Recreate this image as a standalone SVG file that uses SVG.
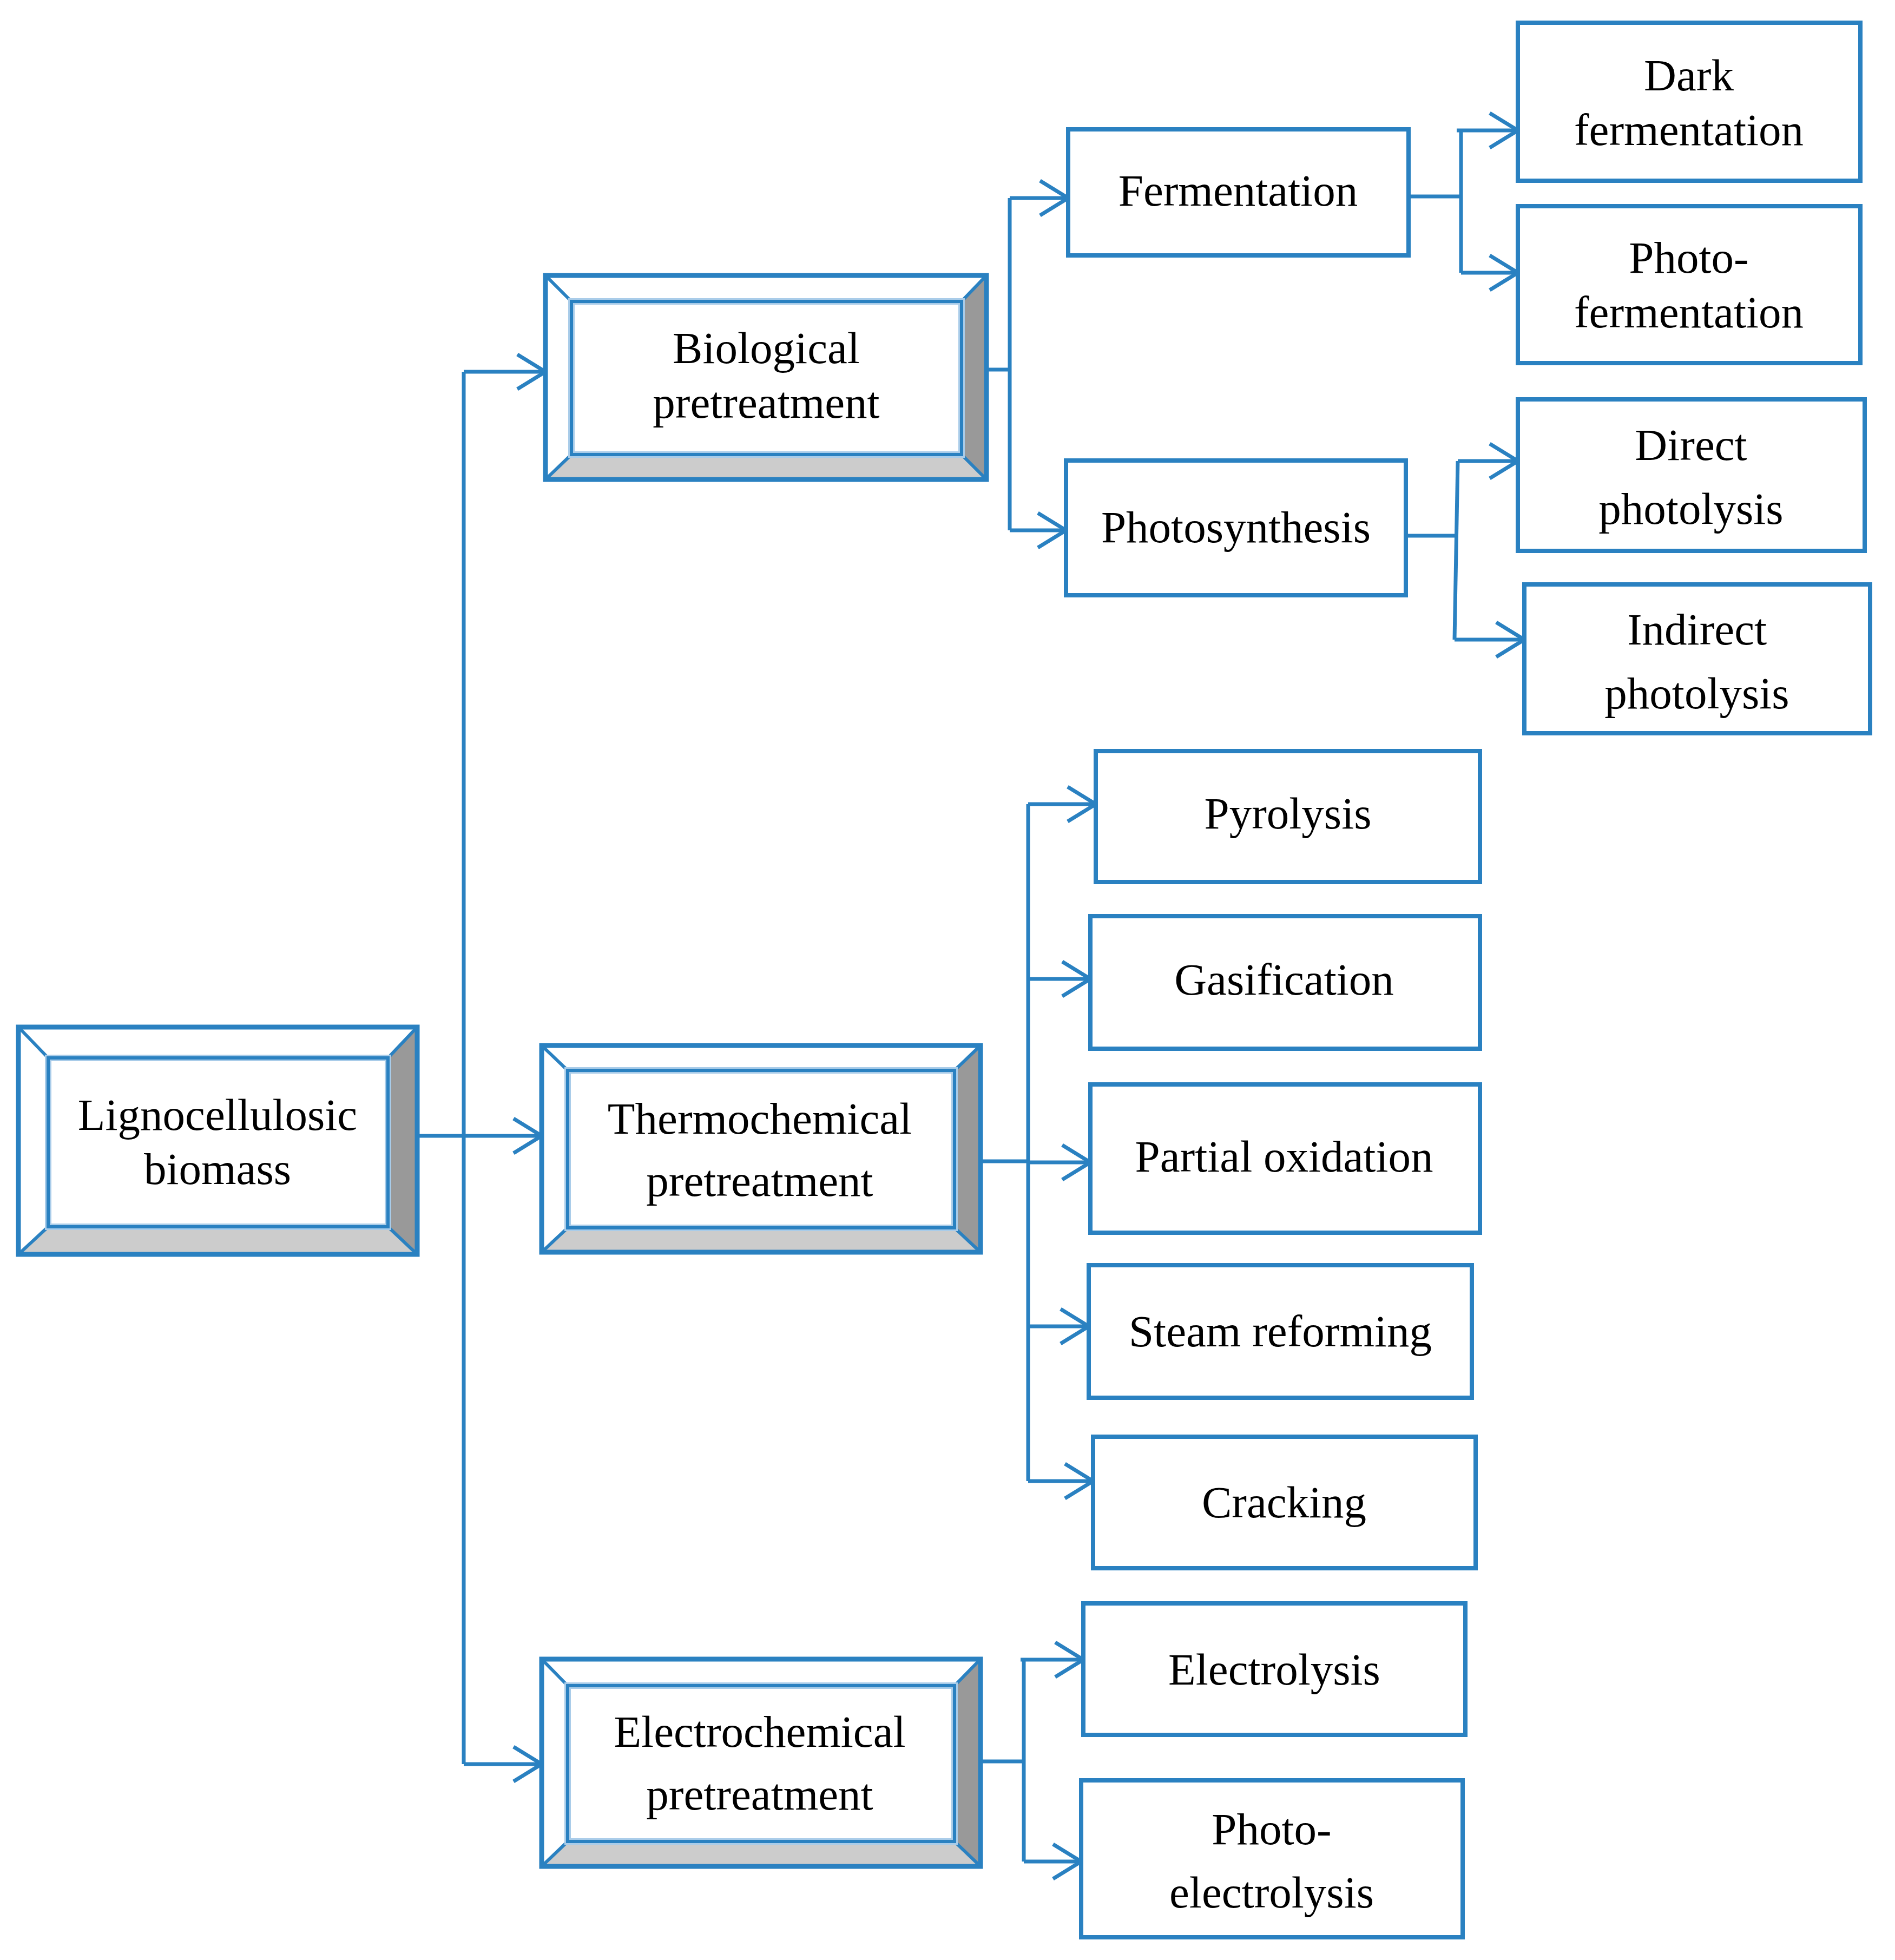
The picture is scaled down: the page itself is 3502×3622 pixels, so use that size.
<svg xmlns="http://www.w3.org/2000/svg" width="3502" height="3622" viewBox="0 0 3502 3622">
<style>
.bg{fill:#ffffff}
.box{fill:#ffffff;stroke:#2A81C1;stroke-width:8}
.outer{fill:none;stroke:#2A81C1;stroke-width:9}
.innerhalo{fill:#ffffff;stroke:#A9CCE9;stroke-width:12}
.inner{fill:none;stroke:#2A81C1;stroke-width:6}
.diag{stroke:#2A81C1;stroke-width:6}
.dark{fill:#999999}
.light{fill:#CCCCCC}
.lbl{font-family:"Liberation Serif","Times New Roman",serif;font-size:83px;fill:#000000;text-anchor:middle}
.con{fill:none;stroke:#2A81C1;stroke-width:7}
.arr{fill:none;stroke:#2A81C1;stroke-width:7;marker-end:url(#chev)}
</style>
<defs>
<marker id="chev" markerUnits="userSpaceOnUse" markerWidth="70" markerHeight="80" viewBox="0 0 70 80" refX="62" refY="40" orient="auto">
<path d="M10,8 L62,40 L10,72" fill="none" stroke="#2A81C1" stroke-width="7"/>
</marker>
</defs>
<rect class="bg" x="0" y="0" width="3502" height="3622"/>

<g id="connectors">
<path class="con" d="M857,687 V3260"/>
<path class="arr" d="M857,687 H1008"/>
<path class="arr" d="M771,2099 H1001"/>
<path class="arr" d="M857,3260 H1001"/>
<path class="con" d="M1823,683 H1866"/>
<path class="con" d="M1866,366 V980"/>
<path class="arr" d="M1866,366 H1974"/>
<path class="arr" d="M1866,980 H1970"/>
<path class="con" d="M2603,363 H2700"/>
<path class="con" d="M2700,241 V504"/>
<path class="arr" d="M2692,241 H2805"/>
<path class="arr" d="M2700,504 H2805"/>
<path class="con" d="M2598,990 H2690"/>
<path class="con" d="M2694,852 L2688,1182"/>
<path class="arr" d="M2694,852 H2805"/>
<path class="arr" d="M2688,1182 H2817"/>
<path class="con" d="M1812,2146 H1900"/>
<path class="con" d="M1900,1486 V2737"/>
<path class="arr" d="M1900,1486 H2025"/>
<path class="arr" d="M1900,1809 H2015"/>
<path class="arr" d="M1900,2148 H2015"/>
<path class="arr" d="M1900,2451 H2012"/>
<path class="arr" d="M1900,2737 H2020"/>
<path class="con" d="M1812,3255 H1892"/>
<path class="con" d="M1892,3067 V3440"/>
<path class="arr" d="M1886,3067 H2002"/>
<path class="arr" d="M1892,3440 H1998"/>
</g>

<g id="n-ligno">
<rect x="34" y="1898" width="737" height="420" fill="#ffffff"/>
<polygon class="dark" points="771,1898 771,2318 717,2267 717,1955"/>
<polygon class="light" points="34,2318 771,2318 717,2267 89,2267"/>
<line class="diag" x1="34" y1="1898" x2="89" y2="1955"/>
<line class="diag" x1="771" y1="1898" x2="717" y2="1955"/>
<line class="diag" x1="34" y1="2318" x2="89" y2="2267"/>
<line class="diag" x1="771" y1="2318" x2="717" y2="2267"/>
<rect class="innerhalo" x="89" y="1955" width="628" height="312"/>
<rect class="inner" x="89" y="1955" width="628" height="312"/>
<rect class="outer" x="34" y="1898" width="737" height="420"/>
<text class="lbl" x="402" y="2088">Lignocellulosic</text>
<text class="lbl" x="402" y="2188">biomass</text>
</g>

<g id="n-bio">
<rect x="1008" y="509" width="815" height="377" fill="#ffffff"/>
<polygon class="dark" points="1823,509 1823,886 1777,840 1777,557"/>
<polygon class="light" points="1008,886 1823,886 1777,840 1056,840"/>
<line class="diag" x1="1008" y1="509" x2="1056" y2="557"/>
<line class="diag" x1="1823" y1="509" x2="1777" y2="557"/>
<line class="diag" x1="1008" y1="886" x2="1056" y2="840"/>
<line class="diag" x1="1823" y1="886" x2="1777" y2="840"/>
<rect class="innerhalo" x="1056" y="557" width="721" height="283"/>
<rect class="inner" x="1056" y="557" width="721" height="283"/>
<rect class="outer" x="1008" y="509" width="815" height="377"/>
<text class="lbl" x="1416" y="671">Biological</text>
<text class="lbl" x="1416" y="772">pretreatment</text>
</g>

<g id="n-thermo">
<rect x="1001" y="1932" width="811" height="382" fill="#ffffff"/>
<polygon class="dark" points="1812,1932 1812,2314 1764,2269 1764,1978"/>
<polygon class="light" points="1001,2314 1812,2314 1764,2269 1049,2269"/>
<line class="diag" x1="1001" y1="1932" x2="1049" y2="1978"/>
<line class="diag" x1="1812" y1="1932" x2="1764" y2="1978"/>
<line class="diag" x1="1001" y1="2314" x2="1049" y2="2269"/>
<line class="diag" x1="1812" y1="2314" x2="1764" y2="2269"/>
<rect class="innerhalo" x="1049" y="1978" width="715" height="291"/>
<rect class="inner" x="1049" y="1978" width="715" height="291"/>
<rect class="outer" x="1001" y="1932" width="811" height="382"/>
<text class="lbl" x="1404" y="2095">Thermochemical</text>
<text class="lbl" x="1404" y="2210">pretreatment</text>
</g>

<g id="n-electro">
<rect x="1001" y="3066" width="811" height="383" fill="#ffffff"/>
<polygon class="dark" points="1812,3066 1812,3449 1764,3403 1764,3115"/>
<polygon class="light" points="1001,3449 1812,3449 1764,3403 1049,3403"/>
<line class="diag" x1="1001" y1="3066" x2="1049" y2="3115"/>
<line class="diag" x1="1812" y1="3066" x2="1764" y2="3115"/>
<line class="diag" x1="1001" y1="3449" x2="1049" y2="3403"/>
<line class="diag" x1="1812" y1="3449" x2="1764" y2="3403"/>
<rect class="innerhalo" x="1049" y="3115" width="715" height="288"/>
<rect class="inner" x="1049" y="3115" width="715" height="288"/>
<rect class="outer" x="1001" y="3066" width="811" height="383"/>
<text class="lbl" x="1404" y="3228">Electrochemical</text>
<text class="lbl" x="1404" y="3344">pretreatment</text>
</g>

<g id="n-fermentation">
<rect class="box" x="1974" y="239" width="629" height="233"/>
<text class="lbl" x="2288" y="380">Fermentation</text>
</g>
<g id="n-photosynthesis">
<rect class="box" x="1970" y="851" width="628" height="249"/>
<text class="lbl" x="2284" y="1002">Photosynthesis</text>
</g>
<g id="n-dark">
<rect class="box" x="2805" y="42" width="633" height="292"/>
<text class="lbl" x="3121" y="167">Dark</text>
<text class="lbl" x="3121" y="268">fermentation</text>
</g>
<g id="n-photoferm">
<rect class="box" x="2805" y="381" width="633" height="290"/>
<text class="lbl" x="3121" y="504">Photo-</text>
<text class="lbl" x="3121" y="605">fermentation</text>
</g>
<g id="n-direct">
<rect class="box" x="2805" y="738" width="641" height="280"/>
<text class="lbl" x="3125" y="850">Direct</text>
<text class="lbl" x="3125" y="968">photolysis</text>
</g>
<g id="n-indirect">
<rect class="box" x="2817" y="1080" width="639" height="275"/>
<text class="lbl" x="3136" y="1191">Indirect</text>
<text class="lbl" x="3136" y="1309">photolysis</text>
</g>
<g id="n-pyrolysis">
<rect class="box" x="2025" y="1388" width="710" height="242"/>
<text class="lbl" x="2380" y="1531">Pyrolysis</text>
</g>
<g id="n-gasification">
<rect class="box" x="2015" y="1693" width="720" height="245"/>
<text class="lbl" x="2373" y="1838">Gasification</text>
</g>
<g id="n-partial">
<rect class="box" x="2015" y="2004" width="720" height="274"/>
<text class="lbl" x="2373" y="2165">Partial oxidation</text>
</g>
<g id="n-steam">
<rect class="box" x="2012" y="2338" width="708" height="245"/>
<text class="lbl" x="2366" y="2488">Steam reforming</text>
</g>
<g id="n-cracking">
<rect class="box" x="2020" y="2655" width="707" height="243"/>
<text class="lbl" x="2373" y="2804">Cracking</text>
</g>
<g id="n-electrolysis">
<rect class="box" x="2002" y="2963" width="706" height="243"/>
<text class="lbl" x="2355" y="3113">Electrolysis</text>
</g>
<g id="n-photoelectrolysis">
<rect class="box" x="1998" y="3290" width="705" height="290"/>
<text class="lbl" x="2350" y="3408">Photo-</text>
<text class="lbl" x="2350" y="3525">electrolysis</text>
</g>
</svg>
